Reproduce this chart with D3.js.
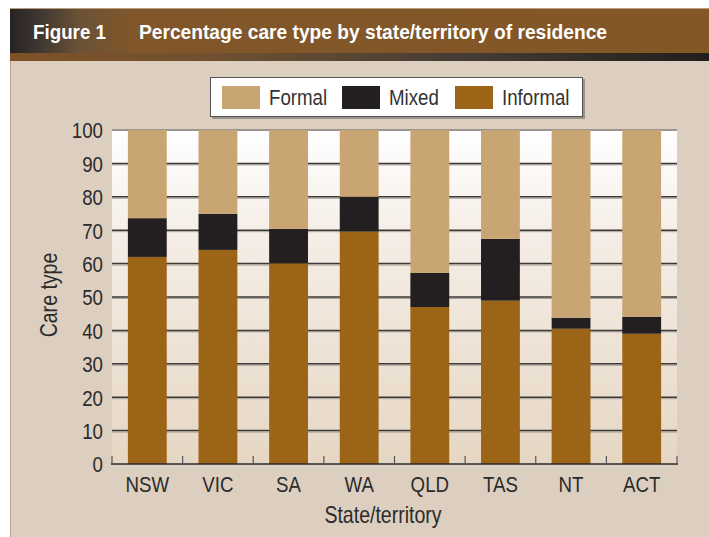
<!DOCTYPE html>
<html><head><meta charset="utf-8">
<script src="https://cdn.jsdelivr.net/npm/d3@7"></script>
<style>html,body{margin:0;padding:0;background:#fff;}svg{display:block;}</style>
</head><body>
<script>
const categories = ["NSW","VIC","SA","WA","QLD","TAS","NT","ACT"];
const informal = [62.0, 64.1, 60.1, 69.6, 47.0, 48.9, 40.5, 39.0];
const mixed    = [11.6, 10.8, 10.3, 10.4, 10.2, 18.5, 3.3, 5.1];
const formal   = [26.4, 25.1, 29.6, 20.0, 42.8, 32.6, 56.2, 55.9];
const seriesNames = ["Informal","Mixed","Formal"];
const legendOrder = ["Formal","Mixed","Informal"];
const yTicks = [0,10,20,30,40,50,60,70,80,90,100];
const colors = {Formal:"#C9A574", Mixed:"#231F20", Informal:"#9C6416"};

const W=709,H=537;
const font = "'Liberation Sans',Arial,sans-serif";
const SX = 0.85;
const svg = d3.select("body").append("svg").attr("width",W).attr("height",H);
const defs = svg.append("defs");
const g1 = defs.append("linearGradient").attr("id","hdr").attr("x1","0").attr("x2","1");
g1.append("stop").attr("offset","0").attr("stop-color","#272322");
g1.append("stop").attr("offset","0.04").attr("stop-color","#3e3631");
g1.append("stop").attr("offset","0.10").attr("stop-color","#6a5236");
g1.append("stop").attr("offset","0.17").attr("stop-color","#80562a");
g1.append("stop").attr("offset","1").attr("stop-color","#845726");
const g2 = defs.append("linearGradient").attr("id","strip").attr("x1","0").attr("x2","1");
g2.append("stop").attr("offset","0").attr("stop-color","#7e5226");
g2.append("stop").attr("offset","0.3").attr("stop-color","#6e5030");
g2.append("stop").attr("offset","0.65").attr("stop-color","#453c35");
g2.append("stop").attr("offset","1").attr("stop-color","#221e1c");
const g3 = defs.append("linearGradient").attr("id","plotbg").attr("x1","0").attr("x2","0").attr("y1","0").attr("y2","1");
g3.append("stop").attr("offset","0").attr("stop-color","#ffffff");
g3.append("stop").attr("offset","0.35").attr("stop-color","#f4ece4");
g3.append("stop").attr("offset","1").attr("stop-color","#e6d7c4");

function stext(parent, x, y, str, size, opts={}) {
  const t = parent.append("text")
    .attr("transform", `translate(${x},${y})${opts.rotate?` rotate(${opts.rotate})`:""} scale(${opts.sx||SX},1)`)
    .attr("font-family", font).attr("font-size", size)
    .attr("fill", opts.fill||"#2b2b2b").text(str);
  if (opts.anchor) t.attr("text-anchor", opts.anchor);
  if (opts.weight) t.attr("font-weight", opts.weight);
  return t;
}

// page background
svg.append("rect").attr("x",0).attr("y",0).attr("width",W).attr("height",H).attr("fill","#fff");
svg.append("rect").attr("x",10).attr("y",53).attr("width",W-10).attr("height",H-53).attr("fill","#DDCFBF");
svg.append("line").attr("x1",10.5).attr("x2",10.5).attr("y1",53).attr("y2",H).attr("stroke","#c4a285").attr("stroke-width",1);
// header
svg.append("rect").attr("x",10).attr("y",8).attr("width",W-10).attr("height",1.5).attr("fill","#b89c7c");
svg.append("rect").attr("x",10).attr("y",9).attr("width",W-10).attr("height",44).attr("fill","url(#hdr)");
svg.append("rect").attr("x",10).attr("y",53).attr("width",W-10).attr("height",8).attr("fill","url(#strip)");
stext(svg, 33, 39, "Figure 1", 21, {fill:"#fff", weight:"bold"}).attr("textLength",73/SX).attr("lengthAdjust","spacingAndGlyphs");
stext(svg, 139, 39, "Percentage care type by state/territory of residence", 21, {fill:"#fff", weight:"bold"}).attr("textLength",468/SX).attr("lengthAdjust","spacingAndGlyphs");

// plot
const m = {l:112, r:677, t:130, b:464};
const x = d3.scaleBand().domain(categories).range([m.l,m.r]).paddingInner(0.45).paddingOuter(0.225);
const y = d3.scaleLinear().domain([0,100]).range([m.b,m.t]);

svg.append("rect").attr("x",m.l).attr("y",m.t).attr("width",m.r-m.l).attr("height",m.b-m.t).attr("fill","url(#plotbg)");

// gridlines
yTicks.filter(t=>t>0 && t<100).forEach(t=>{
  svg.append("line").attr("x1",m.l).attr("x2",m.r).attr("y1",y(t)+1.5).attr("y2",y(t)+1.5).attr("stroke","#a9a29b").attr("stroke-width",1);
  svg.append("line").attr("x1",m.l).attr("x2",m.r).attr("y1",y(t)).attr("y2",y(t)).attr("stroke","#3b3836").attr("stroke-width",1.5);
});
svg.append("line").attr("x1",m.l).attr("x2",m.r).attr("y1",y(100)).attr("y2",y(100)).attr("stroke","#9a9590").attr("stroke-width",2);

// stacked bars
const rows = categories.map((c,i)=>({cat:c, Informal:informal[i], Mixed:mixed[i], Formal:formal[i]}));
const stack = d3.stack().keys(seriesNames)(rows);
svg.append("g").selectAll("g").data(stack).join("g").attr("fill",d=>colors[d.key])
  .selectAll("rect").data(d=>d).join("rect")
  .attr("x",d=>x(d.data.cat)).attr("width",x.bandwidth())
  .attr("y",d=>y(Math.min(d[1],100))).attr("height",d=>y(d[0])-y(Math.min(d[1],100)));

// x axis
const xa = svg.append("g").attr("transform",`translate(0,${m.b})`);
xa.append("line").attr("x1",m.l-1).attr("x2",m.r+1).attr("y1",0).attr("y2",0).attr("stroke","#2a2a2a").attr("stroke-width",1.5);
d3.range(categories.length+1).forEach(i=>{
  const xx = m.l + i*(m.r-m.l)/categories.length;
  xa.append("line").attr("x1",xx).attr("x2",xx).attr("y1",0).attr("y2",-8).attr("stroke","#555").attr("stroke-width",1.2);
});
const xAxis = d3.axisBottom(x).tickSize(0).tickPadding(0);
const xg = svg.append("g").attr("transform",`translate(0,${m.b})`).call(xAxis);
xg.select(".domain").remove();
xg.selectAll("text").attr("y",null).attr("dy",null)
  .attr("transform",`translate(0,28) scale(${SX},1)`)
  .attr("font-family",font).attr("font-size",22).attr("fill","#2b2b2b");

// y axis
const yAxis = d3.axisLeft(y).tickValues(yTicks).tickSize(0).tickPadding(0);
const yg = svg.append("g").attr("transform",`translate(${m.l},0)`).call(yAxis);
yg.select(".domain").remove();
yg.selectAll("text").attr("x",null).attr("dy","0.36em")
  .attr("transform",`translate(-9,0) scale(${SX},1)`)
  .attr("font-family",font).attr("font-size",22).attr("fill","#2b2b2b");

stext(svg, 56.5, 295, "Care type", 23, {rotate:-90, anchor:"middle"});
stext(svg, 383, 523, "State/territory", 23, {anchor:"middle"});

// legend
const lg = svg.append("g");
lg.append("rect").attr("x",212).attr("y",79).attr("width",373).attr("height",40).attr("fill","#9a938c");
lg.append("rect").attr("x",210.5).attr("y",77.5).attr("width",372).attr("height",39).attr("fill","#fff").attr("stroke","#555").attr("stroke-width",1);
const lx = [222, 342, 455];
legendOrder.forEach((k,i)=>{
  lg.append("rect").attr("x",lx[i]).attr("y",86).attr("width",38).attr("height",23).attr("fill",colors[k]);
  stext(lg, lx[i]+47, 104.5, k, 22, {fill:"#333"});
});
</script>
</body></html>
